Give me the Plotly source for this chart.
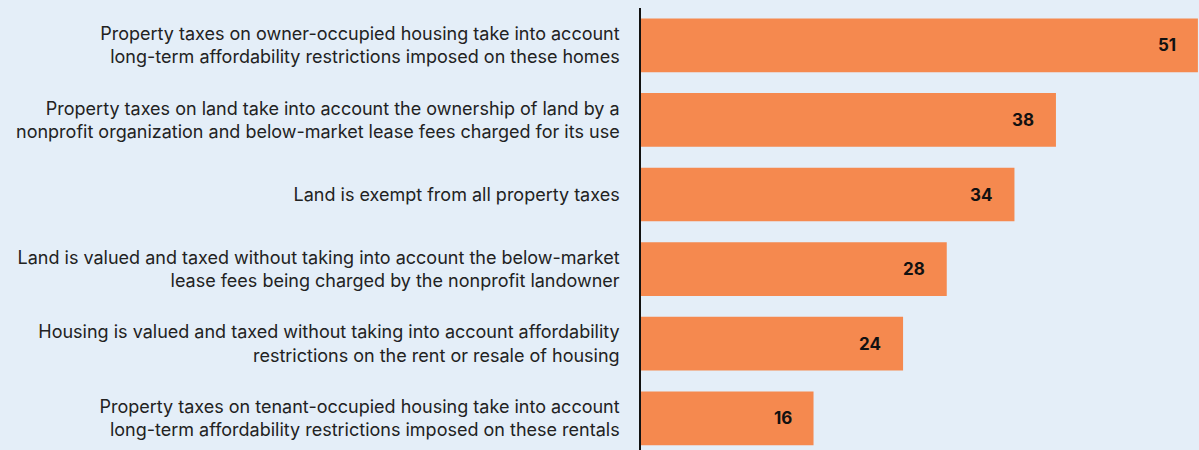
import plotly.graph_objects as go

# survey shares, top to bottom
categories = [
    "Property taxes on owner-occupied housing take into account<br>long-term affordability restrictions imposed on these homes",
    "Property taxes on land take into account the ownership of land by a<br>nonprofit organization and below-market lease fees charged for its use",
    "Land is exempt from all property taxes",
    "Land is valued and taxed without taking into account the below-market<br>lease fees being charged by the nonprofit landowner",
    "Housing is valued and taxed without taking into account affordability<br>restrictions on the rent or resale of housing",
    "Property taxes on tenant-occupied housing take into account<br>long-term affordability restrictions imposed on these rentals",
]
values = [51, 38, 34.2, 28, 24, 15.8]

BG = "#e4eef8"
BAR = "#f5894f"
FONT = "Inter"

fig = go.Figure()
fig.add_trace(go.Bar(
    x=values,
    y=categories,
    orientation="h",
    marker=dict(color=BAR, line=dict(width=0)),
    hoverinfo="x+y",
))

# value labels inside the bar end
annotations = []
for cat, v in zip(categories, values):
    annotations.append(dict(
        x=v, y=cat, xref="x", yref="y",
        text=f"<b>{round(v)}</b>",
        showarrow=False, xanchor="right", yanchor="middle",
        xshift=-20,
        font=dict(family=FONT, size=17, color="#111111"),
    ))

fig.update_layout(
    width=1199, height=450,
    paper_bgcolor=BG, plot_bgcolor=BG,
    margin=dict(l=641, r=0, t=8, b=0),
    bargap=0.28,
    showlegend=False,
    annotations=annotations,
    font=dict(family=FONT, size=18, color="#222222"),
    xaxis=dict(range=[0, 51.1], visible=False, fixedrange=True),
    yaxis=dict(
        type="category",
        categoryorder="array", categoryarray=categories,
        range=[5.425, -0.5],
        showgrid=False, zeroline=False,
        showline=True, linecolor="#111111", linewidth=1.5,
        ticks="", ticklabelstandoff=16,
        tickfont=dict(family=FONT, size=18, color="#222222"),
    ),
)

# drop the page's default body margin so the chart sits at the window origin
fig.write_html("out.html", config={"displayModeBar": False},
               post_script="document.body.style.margin='0';")
